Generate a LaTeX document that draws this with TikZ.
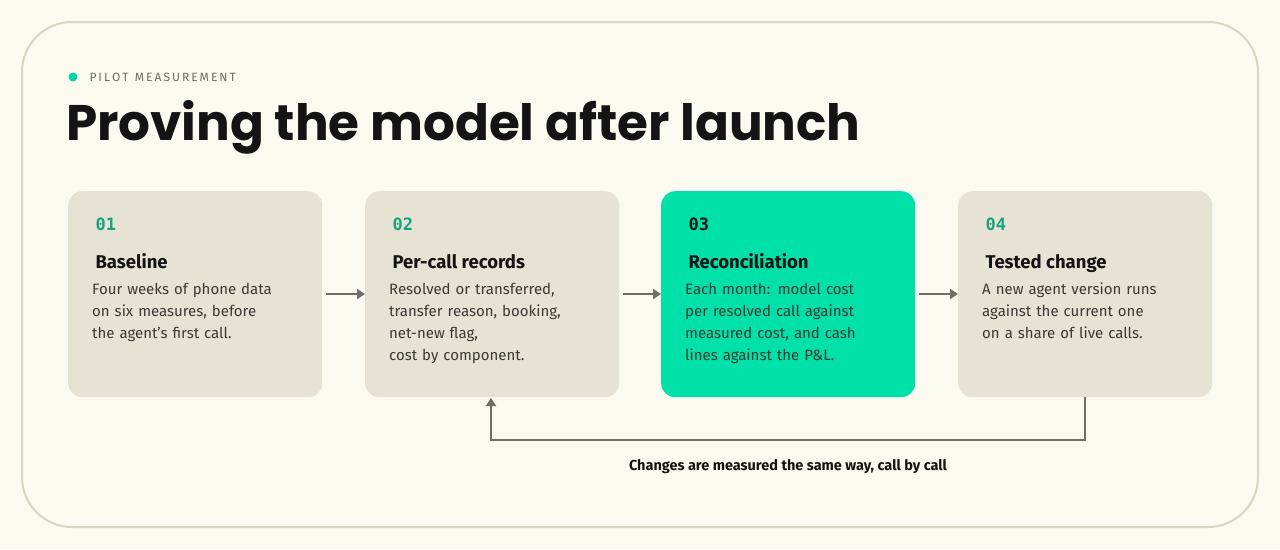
\documentclass[tikz,border=0pt]{standalone}
\usepackage{fontspec}
\setmainfont{Fira Sans}
\newfontfamily\titlefont{Poppins}
\newfontfamily\numfont{DejaVu Sans Mono}
\usetikzlibrary{positioning,arrows.meta}
\definecolor{cream}{HTML}{FBFAF1}
\definecolor{frame}{HTML}{D8D6C2}
\definecolor{cardbg}{HTML}{E6E3D4}
\definecolor{mint}{HTML}{00E0A8}
\definecolor{teal}{HTML}{17A37F}
\definecolor{ink}{HTML}{141414}
\definecolor{bodyink}{HTML}{3A3A34}
\definecolor{arrowgray}{HTML}{6E6E66}
\begin{document}
\begin{tikzpicture}[x=1pt,y=-1pt,
        card/.style={rounded corners=14pt, minimum width=254pt, minimum height=206pt, anchor=north west, inner sep=0pt},
        num/.style={anchor=base west, font=\numfont\bfseries\fontsize{17}{20}\selectfont, text=teal},
        head/.style={anchor=base west, font=\bfseries\fontsize{18.5}{22}\selectfont, text=ink},
        body/.style={anchor=north west, align=left, text width=235pt, inner sep=0pt, font=\fontsize{15}{22}\selectfont, text=bodyink},
        flow/.style={draw=arrowgray, line width=2pt, -{Triangle[length=8pt,width=10pt]}},
    ]
    \fill[cream] (0,0) rectangle (1280,549);
    \draw[frame, fill=cream, line width=2pt, rounded corners=50pt] (22,22) rectangle (1258,527);

    % header
    \fill[mint!85!teal] (73,77) circle (4.5pt);
    \node[anchor=base west, font=\fontsize{12}{14}\selectfont, text=arrowgray] (kicker) at (86,81.5) {P\,I\,L\,O\,T\ \ M\,E\,A\,S\,U\,R\,E\,M\,E\,N\,T};
    \node[anchor=base west, inner sep=0pt, font=\titlefont\bfseries\fontsize{50}{56}\selectfont, text=ink] (title) at (66,140) {Proving the model after launch};

    % cards
    \node[card, fill=cardbg] (c1) at (68,191) {};
    \node[card, fill=cardbg] (c2) at (365,191) {};
    \node[card, fill=mint] (c3) at (661,191) {};
    \node[card, fill=cardbg] (c4) at (958,191) {};

    \node[num] (n1) at (92,230) {01};
    \node[head] (h1) at (92,268) {Baseline};
    \node[body] (b1) at (92,283) {Four weeks of phone data\\on six measures, before\\the agent’s first call.};

    \node[num] (n2) at (389,230) {02};
    \node[head] (h2) at (389,268) {Per-call records};
    \node[body] (b2) at (389,283) {Resolved or transferred,\\transfer reason, booking,\\net-new flag,\\cost by component.};

    \node[num, text=ink] (n3) at (685,230) {03};
    \node[head] (h3) at (685,268) {Reconciliation};
    \node[body] (b3) at (685,283) {Each month: model cost\\per resolved call against\\measured cost, and cash\\lines against the P\&L.};

    \node[num] (n4) at (982,230) {04};
    \node[head] (h4) at (982,268) {Tested change};
    \node[body] (b4) at (982,283) {A new agent version runs\\against the current one\\on a share of live calls.};

    % connectors
    \coordinate (a1) at (326,294);
    \coordinate (a2) at (623,294);
    \coordinate (a3) at (919,294);
    \draw[flow] (a1) -- (a1 -| c2.west);
    \draw[flow] (a2) -- (a2 -| c3.west);
    \draw[flow] (a3) -- (a3 -| c4.west);

    \coordinate (loopstart) at (1085,397);
    \coordinate (loopend) at (491,398);
    \draw[flow] (loopstart) -- (1085,440) -- (491,440) -- (loopend);
    \node[anchor=base, font=\bfseries\fontsize{14.5}{17}\selectfont, text=ink] (note) at (788,470) {Changes are measured the same way, call by call};
\end{tikzpicture}
\end{document}
